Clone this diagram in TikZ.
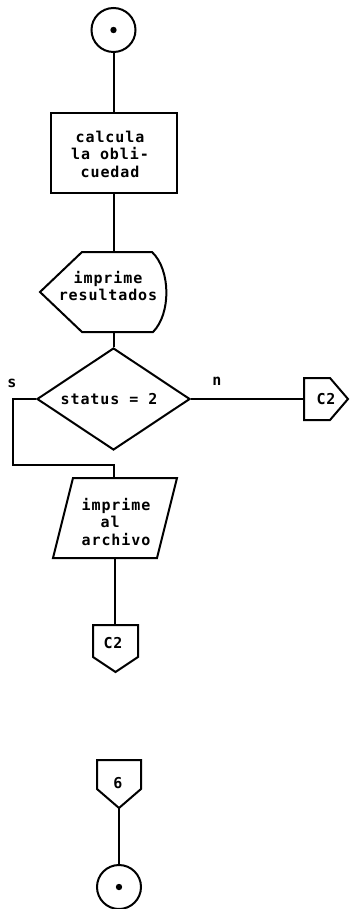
\documentclass[tikz,border=0pt]{standalone}
\usepackage{fontspec}
\newfontfamily\dotfont{DejaVu Sans Mono}[LetterSpace=6]
\usetikzlibrary{shapes.geometric}
\begin{document}
\begin{tikzpicture}[x=1pt,y=-1pt,line width=2pt,
  txt/.style={font=\dotfont\bfseries\fontsize{15}{17.5}\selectfont,align=center,inner sep=0pt},
  terminal/.style={draw,circle,minimum size=44pt,inner sep=0pt},
  stepbox/.style={draw,rectangle,minimum width=126pt,minimum height=80pt,inner sep=0pt},
  decision/.style={draw,diamond,minimum width=153pt,minimum height=102pt,inner sep=0pt,aspect=1.5},
  outline/.style={draw,line join=miter}]
\useasboundingbox (0,0) rectangle (349,909);

% start terminal
\node[terminal] (start) at (113.5,30) {};
\fill (start.center) circle (3.2);

% process box
\node[stepbox] (calc) at (113.5,153) {};
\node[txt] (calctxt) at (110,154) {calcula\\la obli-\\cuedad};

% display symbol
\draw[outline] (82,252) -- (152,252) .. controls (171,270) and (171,314) .. (153,332)
  -- (82,332) -- (40,292) -- cycle;
\coordinate (dispN) at (113.5,252);
\coordinate (dispS) at (113.5,332);
\node[txt] (disp) at (108,286) {imprime\\resultados};

% decision
\node[decision] (dec) at (113.5,399) {};
\node[txt] (dectxt) at (109,399) {status = 2};
\node[txt] (yes) at (12,383) {s};
\node[txt] (no) at (217,381) {n};

% off-page connector to the right
\draw[outline] (304,378) -- (330,378) -- (348,399) -- (330,420) -- (304,420) -- cycle;
\coordinate (offRW) at (304,399);
\node[txt] (offR) at (326,399) {C2};

% output to file
\draw[outline] (73,478) -- (177,478) -- (157,558) -- (53,558) -- cycle;
\coordinate (archN) at (113.5,478);
\coordinate (archS) at (115,558);
\node[txt,align=left] (arch) at (116,522) {imprime\\\phantom{im}al\\archivo};
\coordinate (sTurn) at (13,465);

% off-page connector below
\draw[outline] (93,625) -- (138,625) -- (138,657) -- (115.5,672) -- (93,657) -- cycle;
\coordinate (offBN) at (115,625);
\node[txt] (offB) at (113,643) {C2};

% incoming off-page connector
\draw[outline] (97,760) -- (141,760) -- (141,789) -- (119,808) -- (97,789) -- cycle;
\coordinate (inS) at (119,808);
\node[txt] (inc) at (118,783) {6};

% end terminal
\node[terminal] (stop) at (119,887) {};
\fill (stop.center) circle (3.2);

% connectors
\draw (start) -- (calc);
\draw (calc) -- (dispN);
\draw (dispS) -- (dec);
\draw (dec.east) -- (offRW);
\draw (dec.west) -| (sTurn) -| (archN);
\draw (archS) -- (offBN);
\draw (inS) -- (stop);
\end{tikzpicture}
\end{document}
